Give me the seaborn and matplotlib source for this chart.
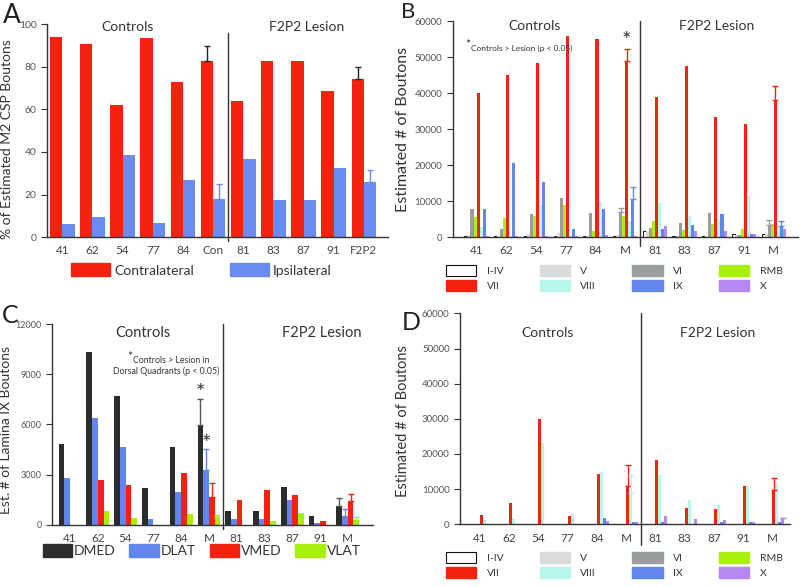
import numpy as np
import pandas as pd
import matplotlib
matplotlib.use('Agg')
import matplotlib.pyplot as plt
import matplotlib.transforms as mtransforms
from matplotlib.patches import Patch
import seaborn as sns

# ---- data ----
ctrl_lesion = ['41', '62', '54', '77', '84', 'M', '81', '83', '87', '91', 'M']

# panel A
a_labels = ['41', '62', '54', '77', '84', 'Con', '81', '83', '87', '91', 'F2P2']
a_contra = [94, 90.5, 62, 93.5, 73, 82.5, 64, 82.5, 82.5, 68.5, 74]
a_ipsi = [6, 9.5, 38.5, 6.5, 27, 18, 36.5, 17.5, 17.5, 32.5, 26]
a_contra_top = [0, 0, 0, 0, 0, 89.5, 0, 0, 0, 0, 80]
a_ipsi_top = [0, 0, 0, 0, 0, 25, 0, 0, 0, 0, 31.5]

# panel B (laminae, whole segment)
laminae = ['I-IV', 'V', 'VI', 'RMB', 'VII', 'VIII', 'IX', 'X']
b_i_iv = [300, 300, 300, 300, 200, 300, 1700, 300, 200, 800, 900]
b_v = [500, 300, 800, 1200, 300, 600, 1800, 300, 300, 500, 800]
b_vi = [7700, 2400, 6300, 11000, 6600, 7000, 2600, 4000, 6600, 600, 3500]
b_rmb = [5700, 5200, 6000, 8800, 1800, 5800, 4600, 2000, 3700, 2400, 3700]
b_vii = [40000, 45000, 48500, 56000, 55000, 49000, 39000, 47500, 33500, 31500, 38000]
b_viii = [2700, 200, 9000, 700, 9900, 4500, 9400, 5800, 5000, 11500, 3000]
b_ix = [7700, 20500, 15200, 2400, 7700, 10500, 2400, 3400, 6300, 900, 3100]
b_x = [300, 200, 300, 300, 600, 300, 3100, 1800, 1600, 800, 2400]
b_tops = {'VI': [0, 0, 0, 0, 0, 8200, 0, 0, 0, 0, 4800],
          'VII': [0, 0, 0, 0, 0, 52300, 0, 0, 0, 0, 42000],
          'IX': [0, 0, 0, 0, 0, 14000, 0, 0, 0, 0, 4400]}

# panel C (lamina IX quadrants)
quadrants = ['DMED', 'DLAT', 'VMED', 'VLAT']
c_dmed = [4800, 10300, 7700, 2200, 4650, 5950, 800, 800, 2250, 550, 1100]
c_dlat = [2800, 6400, 4650, 350, 1950, 3250, 350, 350, 1500, 100, 550]
c_vmed = [0, 2700, 2400, 0, 3100, 1650, 1500, 2100, 1800, 250, 1400]
c_vlat = [0, 850, 400, 0, 650, 450, 0, 250, 700, 0, 300]
c_tops = {'DMED': [0, 0, 0, 0, 0, 7500, 0, 0, 0, 0, 1600],
          'DLAT': [0, 0, 0, 0, 0, 4500, 0, 0, 0, 0, 950],
          'VMED': [0, 0, 0, 0, 0, 2500, 0, 0, 0, 0, 1850],
          'VLAT': [0, 0, 0, 0, 0, 600, 0, 0, 0, 0, 450]}

# panel D
d_i_iv = [0] * 11
d_v = [0] * 11
d_vi = [0] * 11
d_rmb = [0] * 11
d_vii = [2600, 6000, 29900, 2200, 14300, 10900, 18300, 4500, 4400, 10900, 9800]
d_viii = [1200, 1900, 23000, 2900, 15000, 8800, 14000, 6900, 5500, 10900, 11600]
d_ix = [0, 0, 0, 0, 1900, 750, 750, 0, 500, 500, 600]
d_x = [0, 0, 0, 0, 950, 500, 2200, 1400, 1200, 500, 1700]
d_tops = {'VII': [0, 0, 0, 0, 0, 16900, 0, 0, 0, 0, 13100],
          'VIII': [0, 0, 0, 0, 0, 14000, 0, 0, 0, 0, 0],
          'X': [0, 0, 0, 0, 0, 0, 0, 0, 0, 0, 1800]}

RED = '#F4230F'
BLUE = '#6186EE'
LIME = '#A8F00A'
lam_colors = ['#FFFFFF', '#D9DCDA', '#9A9D9E', LIME, RED, '#B8F6EC', BLUE, '#B488F0']
quad_colors = ['#2B2D2D', BLUE, RED, LIME]

sns.set_style('ticks')
plt.rcParams['font.family'] = ['Lato', 'DejaVu Sans']
TXT = '#333333'


def draw_bars(ax, series_names, values, colors, tops, err_colors=None):
    rows = []
    for name, vals in zip(series_names, values):
        for i, v in enumerate(vals):
            rows.append({'pos': str(i), 'series': name, 'value': v})
    df = pd.DataFrame(rows)
    order = [str(i) for i in range(len(values[0]))]
    sns.barplot(data=df, x='pos', y='value', hue='series', hue_order=series_names,
                order=order, palette=colors, saturation=1, width=0.82,
                errorbar=None, legend=False, ax=ax, linewidth=0)
    for j, name in enumerate(series_names):
        if name not in tops:
            continue
        ec = err_colors[j] if err_colors else colors[j]
        for i, top in enumerate(tops[name]):
            if top <= 0:
                continue
            bar = ax.containers[j][i]
            x = bar.get_x() + bar.get_width() / 2
            h = bar.get_height()
            ax.errorbar(x, h, yerr=[[0], [top - h]], fmt='none', ecolor=ec,
                        elinewidth=1, capsize=2, capthick=1)


def style_axes(ax, labels, ylim, yticks, xlim, ylabel, ylab_xy, ylab_size,
               ytick_size=7):
    ax.set_xlim(*xlim)
    ax.set_ylim(*ylim)
    ax.set_yticks(yticks)
    ax.set_xticks(range(len(labels)))
    ax.set_xticklabels(labels)
    ax.set_xlabel('')
    ax.set_ylabel(ylabel, fontsize=ylab_size, color=TXT)
    ax.yaxis.set_label_coords(*ylab_xy)
    ax.tick_params(axis='x', length=0, labelsize=8.5, labelcolor='#444444', pad=6)
    ax.tick_params(axis='y', length=4, width=0.8, labelsize=ytick_size,
                   labelcolor='#555555', color='#333333')
    sns.despine(ax=ax)
    for s in ['left', 'bottom']:
        ax.spines[s].set_color('#333333')
        ax.spines[s].set_linewidth(1)


def group_titles(ax, xc, xl, yfrac, size=10):
    tr = mtransforms.blended_transform_factory(ax.transData, ax.transAxes)
    ax.text(xc, yfrac, 'Controls', transform=tr, ha='center', va='center',
            fontsize=size, color=TXT)
    ax.text(xl, yfrac, 'F2P2 Lesion', transform=tr, ha='center', va='center',
            fontsize=size, color=TXT)


def divider(ax, y0, y1):
    ax.axvline(5.5, ymin=y0, ymax=y1, color='#333333', lw=1, clip_on=False)


fig = plt.figure(figsize=(8, 5.87), dpi=100)

# ---- A ----
axA = fig.add_axes([0.059, 0.596, 0.426, 0.363])
draw_bars(axA, ['Contralateral', 'Ipsilateral'], [a_contra, a_ipsi],
          [RED, '#6A8CF2'], {'Contralateral': a_contra_top, 'Ipsilateral': a_ipsi_top},
          err_colors=['#222222', '#6A8CF2'])
style_axes(axA, a_labels, (0, 100), [0, 20, 40, 60, 80, 100], (-0.5, 10.8),
           '% of Estimated M2 CSP Boutons', (-0.1, 0.46), 10, ytick_size=7.5)
divider(axA, -0.02, 0.96)
group_titles(axA, 2.16, 8.1, 0.985)
fig.legend(handles=[Patch(color=RED, label='Contralateral'),
                    Patch(color='#6A8CF2', label='Ipsilateral')],
           loc='center', bbox_to_anchor=(0.252, 0.54), ncol=2, frameon=False,
           fontsize=10, handlelength=2.8, handleheight=1.05, handletextpad=0.3,
           columnspacing=2.6, labelcolor=TXT)

# ---- B ----
axB = fig.add_axes([0.566, 0.596, 0.431, 0.368])
draw_bars(axB, laminae, [b_i_iv, b_v, b_vi, b_rmb, b_vii, b_viii, b_ix, b_x],
          lam_colors, b_tops, err_colors=lam_colors[:4] + [RED, lam_colors[5], BLUE, lam_colors[7]])
for bar in axB.containers[0]:
    bar.set_edgecolor('#111111')
    bar.set_linewidth(0.7)
style_axes(axB, ctrl_lesion, (0, 60000), np.arange(0, 60001, 10000), (-0.8, 10.8),
           'Estimated # of Boutons', (-0.125, 0.5), 11.5)
divider(axB, -0.04, 1.0)
group_titles(axB, 1.95, 8.08, 0.977)
trB = mtransforms.blended_transform_factory(axB.transData, axB.transAxes)
axB.text(-0.2, 0.89, '*', transform=trB, fontsize=9, color=TXT, ha='right', va='center')
axB.text(-0.2, 0.875, 'Controls > Lesion (p < 0.05)', transform=trB, fontsize=6,
         color=TXT, ha='left', va='center')
barB = axB.containers[4][5]
axB.text(barB.get_x() + barB.get_width() / 2, 54500, '*', fontsize=16, color=TXT,
         ha='center', va='center')

# ---- C ----
axC = fig.add_axes([0.065, 0.106, 0.401, 0.342])
draw_bars(axC, quadrants, [c_dmed, c_dlat, c_vmed, c_vlat], quad_colors, c_tops,
          err_colors=['#555555', BLUE, RED, LIME])
style_axes(axC, ctrl_lesion, (0, 12000), [0, 3000, 6000, 9000, 12000], (-0.65, 10.9),
           'Est. # of Lamina IX Boutons', (-0.125, 0.47), 10, ytick_size=6.5)
divider(axC, -0.02, 1.0)
group_titles(axC, 2.63, 9.06, 0.955, size=10.5)
trC = mtransforms.blended_transform_factory(axC.transData, axC.transAxes)
axC.text(2.25, 0.835, '*', transform=trC, fontsize=9, color=TXT, ha='right', va='center')
axC.text(2.27, 0.82, 'Controls > Lesion in', transform=trC, fontsize=6.3,
         color=TXT, ha='left', va='center')
axC.text(3.45, 0.765, 'Dorsal Quadrants (p < 0.05)', transform=trC, fontsize=6.3,
         color=TXT, ha='center', va='center')
for j, ystar in [(0, 7900), (1, 4800)]:
    bar = axC.containers[j][5]
    axC.text(bar.get_x() + bar.get_width() / 2, ystar, '*', fontsize=16, color=TXT,
             ha='center', va='center')
fig.legend(handles=[Patch(color=c, label=q) for q, c in zip(quadrants, quad_colors)],
           loc='center', bbox_to_anchor=(0.252, 0.062), ncol=4, frameon=False,
           fontsize=10, handlelength=2.1, handleheight=1.0, handletextpad=0.15,
           columnspacing=1.0, labelcolor=TXT)

# ---- D ----
axD = fig.add_axes([0.575, 0.107, 0.4125, 0.359])
draw_bars(axD, laminae, [d_i_iv, d_v, d_vi, d_rmb, d_vii, d_viii, d_ix, d_x],
          lam_colors, d_tops, err_colors=lam_colors[:4] + [RED, lam_colors[5], BLUE, lam_colors[7]])
style_axes(axD, ctrl_lesion, (0, 60000), np.arange(0, 60001, 10000), (-0.68, 10.6),
           'Estimated # of Boutons', (-0.15, 0.49), 10.5)
divider(axD, -0.1, 1.0)
group_titles(axD, 2.33, 8.12, 0.905)


def lamina_legend(ycenter):
    handles = []
    for name, c in zip(laminae, lam_colors):
        if name == 'I-IV':
            handles.append(Patch(facecolor='white', edgecolor='#111111', lw=0.8, label=name))
        else:
            handles.append(Patch(color=c, label=name))
    # column-major fill: reorder so rows read I-IV,V,VI,RMB / VII,VIII,IX,X
    ordered = []
    for k in range(4):
        ordered += [handles[k], handles[k + 4]]
    fig.legend(handles=ordered, loc='center', bbox_to_anchor=(0.768, ycenter),
               ncol=4, frameon=False, fontsize=7.5, handlelength=2.9,
               handleheight=1.25, handletextpad=1.0, columnspacing=3.5,
               labelspacing=0.4, labelcolor=TXT)


lamina_legend(0.526)
lamina_legend(0.037)

# panel letters
for x, y, letter, size in [(0.004, 0.995, 'A', 19), (0.501, 0.997, 'B', 16),
                           (0.002, 0.482, 'C', 18), (0.502, 0.47, 'D', 18)]:
    fig.text(x, y, letter, fontsize=size, color='#222222', ha='left', va='top')

fig.savefig('out.png', dpi=100)
